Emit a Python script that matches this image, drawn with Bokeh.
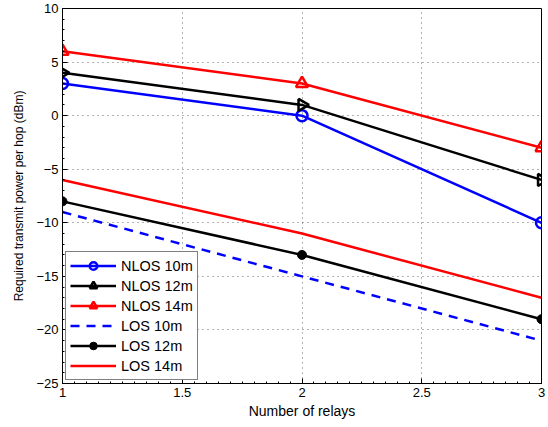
import math
from bokeh.plotting import figure
from bokeh.models import Range1d, FixedTicker, Legend, LegendItem
from bokeh.embed import file_html
from bokeh.resources import INLINE

relays = [1, 2, 3]
nlos_10 = [3, 0, -10]
nlos_12 = [4, 1, -6]
nlos_14 = [6, 3, -3]
los_10 = [-9, -15, -21]
los_12 = [-8, -13, -19]
los_14 = [-6, -11, -17]

x_ticks = [1, 1.5, 2, 2.5, 3]
y_ticks = [-25, -20, -15, -10, -5, 0, 5, 10]

FONT = "Liberation Sans"

p = figure(width=548, height=427, output_backend="svg", toolbar_location=None,
           x_range=Range1d(1, 3), y_range=Range1d(-25, 10),
           min_border_left=62, min_border_right=7, min_border_top=8, min_border_bottom=44)
p.outline_line_color = "black"
p.outline_line_width = 1
p.background_fill_color = "white"
p.border_fill_color = "white"

for ax in (p.xaxis[0], p.yaxis[0]):
    ax.major_tick_in = 5
    ax.major_tick_out = 0
    ax.minor_tick_in = 2
    ax.minor_tick_out = 0
    ax.axis_line_color = "black"
    ax.major_label_text_font = FONT
    ax.major_label_text_font_size = "13px"
    ax.major_label_text_color = "black"
    ax.axis_label_text_font = FONT
    ax.axis_label_text_font_style = "normal"
    ax.axis_label_text_color = "black"

p.xaxis.axis_label_text_font_size = "14px"
p.yaxis.axis_label_text_font_size = "12px"

p.xaxis.ticker = FixedTicker(ticks=x_ticks, minor_ticks=[1 + i * 0.05 for i in range(41)])
p.yaxis.ticker = FixedTicker(ticks=y_ticks, minor_ticks=[-25 + i * 1.0 for i in range(36)])
p.xaxis.axis_label = "Number of relays"
p.yaxis.axis_label = "Required transmit power per hop (dBm)"
p.xaxis.axis_label_standoff = 3
p.yaxis.axis_label_standoff = 7
p.xaxis.major_label_standoff = 4
p.yaxis.major_label_standoff = 4

for g in (p.xgrid[0], p.ygrid[0]):
    g.grid_line_color = "black"
    g.grid_line_alpha = 0.6
    g.grid_line_dash = "1 4"
    g.grid_line_width = 1

LW = 2.5
items = []

r1 = p.line(relays, nlos_10, line_color="blue", line_width=LW)
m1 = p.scatter(relays, nlos_10, marker="circle", size=11, line_color="blue", line_width=2.5, fill_color=None)
items.append(LegendItem(label="NLOS 10m", renderers=[r1, m1]))

r2 = p.line(relays, nlos_12, line_color="black", line_width=LW)
m2 = p.scatter(relays, nlos_12, marker="triangle", angle=-math.pi / 2, size=12, line_color="black", line_width=2.5, fill_color=None)
items.append(LegendItem(label="NLOS 12m", renderers=[r2, m2]))

r3 = p.line(relays, nlos_14, line_color="red", line_width=LW)
m3 = p.scatter(relays, nlos_14, marker="triangle", size=12, line_color="red", line_width=2.5, fill_color=None)
items.append(LegendItem(label="NLOS 14m", renderers=[r3, m3]))

r4 = p.line(relays, los_10, line_color="blue", line_width=LW, line_dash="9 7")
items.append(LegendItem(label="LOS 10m", renderers=[r4]))

r5 = p.line(relays, los_12, line_color="black", line_width=LW)
m5 = p.scatter(relays, los_12, marker="circle", size=9, line_color="black", fill_color="black")
items.append(LegendItem(label="LOS 12m", renderers=[r5, m5]))

r6 = p.line(relays, los_14, line_color="red", line_width=LW)
items.append(LegendItem(label="LOS 14m", renderers=[r6]))

legend = Legend(items=items, location="bottom_left")
legend.margin = 3
legend.padding = 4
legend.spacing = 1
legend.glyph_width = 46
legend.glyph_height = 19
legend.label_height = 19
legend.label_standoff = 5
legend.label_text_font = FONT
legend.label_text_font_size = "14.5px"
legend.label_text_color = "black"
legend.border_line_color = "black"
legend.border_line_width = 1
legend.background_fill_alpha = 1
p.add_layout(legend, "center")

open("out.html", "w").write(file_html(p, INLINE))
